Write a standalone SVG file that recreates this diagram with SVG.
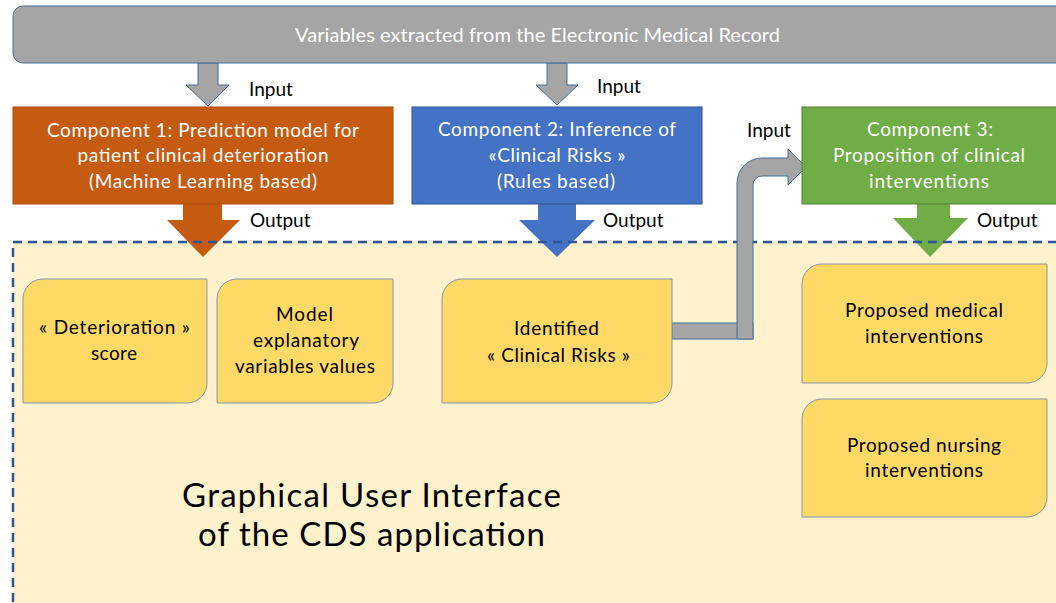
<svg xmlns="http://www.w3.org/2000/svg" width="1056" height="603" viewBox="0 0 1056 603">
<style>
.t{font-family:Lato,"Liberation Sans",sans-serif;font-size:19px;text-anchor:middle}
.w{fill:#ffffff}
.k{fill:#000000}
.lbl{font-family:Lato,"Liberation Sans",sans-serif;font-size:19px;fill:#000}
.yb{fill:#FFD966;stroke:#8497B0;stroke-width:1}
.garrow{fill:#A5A5A5;stroke:#41719C;stroke-width:1}
</style>
<rect width="1056" height="603" fill="#ffffff"/>
<g id="gui-region">
<rect x="13" y="242" width="1100" height="400" fill="#FFF2CC"/>
</g>
<g id="connectors">
<path id="out1" d="M183,204 H222 V220 H240 L203,257 L167,220 H183 Z" fill="#C55A11"/>
<path id="out2" d="M538,204 H576 V220 H595 L557,257 L519,220 H538 Z" fill="#4472C4"/>
<path id="out3" d="M917,204 H950 V218 H968 L930,257 L893,218 H917 Z" fill="#70AD47"/>
</g>
<rect x="13" y="242" width="1100" height="400" fill="none" stroke="#2F5597" stroke-width="2.5" stroke-dasharray="9 6"/>
<g id="connectors-2">
<rect x="672" y="323" width="81" height="16" class="garrow"/>
<path d="M737,339 V183 A25,25 0 0 1 762,158 H788 V149 L806,167 L788,185 V176 H762 A9,9 0 0 0 753,185 V339 Z" class="garrow"/>
<path id="in1" d="M198,63 H218 V85 H229 L208,106 L186,85 H198 Z" class="garrow"/>
<path id="in2" d="M547,63 H567 V85 H578 L557,105 L536,85 H547 Z" class="garrow"/>
<text class="lbl" x="249" y="96">Input</text>
<text class="lbl" x="597" y="93">Input</text>
<text class="lbl" x="747" y="137">Input</text>
<text class="lbl" x="250" y="227">Output</text>
<text class="lbl" x="603" y="227">Output</text>
<text class="lbl" x="977" y="227">Output</text>
</g>
<g id="emr">
<rect x="13" y="6" width="1060" height="57" rx="10" fill="#A5A5A5" stroke="#41719C" stroke-width="1"/>
<text class="t w" x="537.5" y="42" textLength="485" style="font-size:20px">Variables extracted from the Electronic Medical Record</text>
</g>
<g id="component1">
<rect x="13" y="107" width="380" height="97" fill="#C55A11" stroke="#AE4A0A" stroke-width="1"/>
<text class="t w" x="203" y="137" textLength="312">Component 1: Prediction model for</text>
<text class="t w" x="203" y="162" textLength="251">patient clinical deterioration</text>
<text class="t w" x="203" y="188" textLength="228">(Machine Learning based)</text>
</g>
<g id="component2">
<rect x="412" y="107" width="290" height="97" fill="#4472C4" stroke="#2F528F" stroke-width="1"/>
<text class="t w" x="557" y="136" textLength="238">Component 2: Inference of</text>
<text class="t w" x="557" y="162" textLength="137">«Clinical Risks »</text>
<text class="t w" x="556" y="188" textLength="118">(Rules based)</text>
</g>
<g id="component3">
<rect x="802" y="107" width="270" height="97" fill="#70AD47" stroke="#507E32" stroke-width="1"/>
<text class="t w" x="930" y="136" textLength="126">Component 3:</text>
<text class="t w" x="929" y="162" textLength="192">Proposition of clinical</text>
<text class="t w" x="929" y="188" textLength="120">interventions</text>
</g>
<g id="deterioration-score">
<path class="yb" d="M43,279 H207 V383 A20,20 0 0 1 187,403 H23 V299 A20,20 0 0 1 43,279 Z"/>
<text class="t k" x="114.5" y="334" textLength="151">« Deterioration »</text>
<text class="t k" x="114" y="360" textLength="46">score</text>
</g>
<g id="model-variables">
<path class="yb" d="M237,279 H393 V383 A20,20 0 0 1 373,403 H217 V299 A20,20 0 0 1 237,279 Z"/>
<text class="t k" x="304.5" y="321" textLength="57">Model</text>
<text class="t k" x="306" y="347" textLength="106">explanatory</text>
<text class="t k" x="305" y="373" textLength="140">variables values</text>
</g>
<g id="clinical-risks">
<path class="yb" d="M462,279 H672 V383 A20,20 0 0 1 652,403 H442 V299 A20,20 0 0 1 462,279 Z"/>
<text class="t k" x="556.5" y="335" textLength="85">Identified</text>
<text class="t k" x="558.5" y="362" textLength="143">« Clinical Risks »</text>
</g>
<g id="medical-interventions">
<path class="yb" d="M822,264 H1047 V363 A20,20 0 0 1 1027,383 H802 V284 A20,20 0 0 1 822,264 Z"/>
<text class="t k" x="924" y="317" textLength="158">Proposed medical</text>
<text class="t k" x="924" y="343" textLength="118">interventions</text>
</g>
<g id="nursing-interventions">
<path class="yb" d="M822,399 H1047 V497 A20,20 0 0 1 1027,517 H802 V419 A20,20 0 0 1 822,399 Z"/>
<text class="t k" x="924" y="452" textLength="154">Proposed nursing</text>
<text class="t k" x="924" y="477" textLength="118">interventions</text>
</g>
<g id="gui-label">
<text class="t k" x="371.5" y="507" textLength="379" style="font-size:33px">Graphical User Interface</text>
<text class="t k" x="371.5" y="546" textLength="347" style="font-size:33px">of the CDS application</text>
</g>
</svg>
